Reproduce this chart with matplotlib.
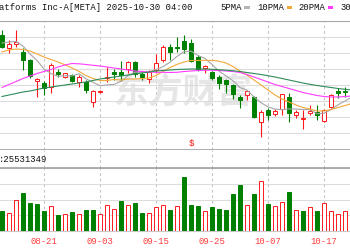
import numpy as np
import matplotlib
matplotlib.use("Agg")
import matplotlib.pyplot as plt
from matplotlib.patches import Rectangle

# trading days shown (last one is cut by the right edge)
dates = ["08-13", "08-14", "08-15", "08-18", "08-19", "08-20", "08-21", "08-22", "08-25", "08-26",
         "08-27", "08-28", "08-29", "09-02", "09-03", "09-04", "09-05", "09-08", "09-09", "09-10",
         "09-11", "09-12", "09-15", "09-16", "09-17", "09-18", "09-19", "09-22", "09-23", "09-24",
         "09-25", "09-26", "09-29", "09-30", "10-01", "10-02", "10-03", "10-06", "10-07", "10-08",
         "10-09", "10-10", "10-13", "10-14", "10-15", "10-16", "10-17", "10-20", "10-21", "10-22",
         "10-23"]
label_dates = ["08-21", "09-03", "09-15", "09-25", "10-07", "10-17"]
dividend_date = "09-22"

opens = [810, 796.7, 801.5, 793.3, 785, 764.3, 762.3, 758, 773.3, 768.3,
         770, 763, 763, 743, 753, 767, 773, 773.5, 776, 782.5,
         771.5, 766.5, 775.5, 785, 798.5, 798.5, 804, 802, 788.3, 776.7,
         773, 768.5, 765.5, 760, 748.3, 750, 748, 723, 735, 731,
         736, 748, 730, 726, 732, 733.3, 724.3, 738.3, 754.3, 754.3,
         752]
highs = [815, 805, 815.5, 797, 786.5, 767.3, 764.5, 782, 776, 772.5,
         771.5, 770, 765, 755.5, 755.5, 778.5, 776, 784.5, 784.5, 784,
         773.5, 775, 791.5, 800, 801.5, 808.5, 810, 806.5, 790, 780,
         774, 770, 766.5, 761, 750, 755.5, 749, 735, 737, 736.5,
         751.5, 751.7, 735, 735, 740, 740, 736.5, 751, 756.7, 758.3,
         760]
lows = [797, 792, 798, 775, 767, 748.5, 750, 752, 768, 767,
        763, 758, 752, 738.5, 752, 763.5, 765, 764, 772, 768.5,
        765, 762, 772, 783.5, 785, 793.5, 792, 783.5, 774, 772,
        765, 756, 752, 746, 737, 745, 727, 708, 725, 729,
        730, 723.3, 726.7, 716.5, 730, 725, 723.3, 736.7, 746.7, 748.3,
        750]
closes = [798.3, 800.7, 803.5, 785, 769, 765.7, 757.5, 780, 771.5, 771.7,
          764.5, 768.3, 755, 754, 754.5, 768.5, 771, 770, 783.5, 771,
          768, 773, 782, 797.5, 793.5, 797, 796.5, 784.5, 776, 779,
          767, 762.5, 761.5, 751, 745, 754.3, 728, 733, 730, 734.3,
          751, 732, 732.7, 727, 734.5, 730, 735, 750, 751.7, 753.3,
          756]
# volume in millions of shares
volumes = [12.0, 10.8, 18.4, 22.8, 16.8, 16.4, 12.0, 14.8, 9.4, 10.2,
           11.4, 10.4, 12.6, 12.6, 10.4, 15.8, 13.0, 18.0, 15.4, 16.8,
           10.8, 10.8, 14.2, 15.6, 12.6, 15.0, 32.6, 15.8, 15.0, 12.0,
           14.2, 13.2, 12.6, 22.4, 27.8, 15.8, 22.4, 29.8, 16.4, 15.0,
           17.4, 23.4, 12.4, 12.0, 14.2, 12.0, 16.8, 12.0, 10.4, 12.0,
           13.8]
shown_volume = 25531349

ma5 = [802, 803, 803.5, 799, 791, 784.6, 776, 771.4, 768.7, 769.3,
       769, 771.2, 766.2, 762.7, 759.3, 760.1, 760.6, 763.6, 769.6, 772.8,
       772.7, 773.1, 775.5, 778.3, 782.8, 788.6, 793.3, 793.8, 789.5, 786.6,
       780.6, 773.8, 769.2, 764.2, 757.4, 754.9, 748, 742.3, 738.1, 735.9,
       735.3, 736.1, 736, 735.4, 735.4, 731.2, 731.8, 735.3, 740.2, 744,
       748]
ma10 = [793, 795, 796, 795.5, 794, 791, 788, 785.5, 783, 780.2,
        777, 773.6, 769.5, 766.5, 764.5, 764.5, 765.5, 765, 766, 766,
        766.4, 767, 769.5, 773.5, 777.5, 780.6, 783, 784.5, 784.5, 784.7,
        784.6, 783.8, 782, 778.5, 774, 770, 765, 760, 755, 750,
        746, 743, 740, 737.5, 736, 734, 734, 735.5, 737.5, 739.5,
        741.5]
ma20 = [757.5, 760.5, 763.5, 766.5, 769, 771.5, 773.5, 775.5, 778, 780,
        781.5, 781.2, 780.5, 779.7, 779, 778, 777, 776, 775, 774,
        773.5, 773, 772.7, 772.7, 772.5, 772.7, 773.5, 774, 774.5, 774.8,
        774.8, 774.5, 774, 773.5, 772.5, 770.5, 768, 765.5, 763, 760.5,
        758.5, 756.5, 754.5, 752.5, 751, 749.5, 748.5, 748, 748, 748.5,
        749]
ma30 = [748.5, 750, 751.5, 753, 754, 755.5, 757, 758, 759, 760,
        761, 762, 763, 764.5, 766, 767, 768, 769, 770, 771,
        772, 773, 774, 774.5, 775, 775.5, 775.8, 776, 776, 776,
        775.7, 775.3, 774.8, 774.2, 773.5, 772.5, 771.5, 770.5, 769.3, 768,
        766.5, 765, 763.5, 762, 760.7, 759.5, 758.5, 757.5, 756.5, 755.7,
        755]

RED = "#ff1a1a"
GREEN = "#008000"
GRID = "#dcdcdc"
MONO = "Liberation Mono"

plt.rcParams["font.family"] = [MONO, "DejaVu Sans"]

W, H = 350, 250


def box(top, bottom):
    # axes rectangle from pixel rows
    return [0, 1 - bottom / H, 1, (bottom - top) / H]


fig = plt.figure(figsize=(W / 100, H / 100), dpi=100)
ax = fig.add_axes(box(20.7, 149.6))
axh = fig.add_axes(box(149.6, 168), sharex=ax)
axv = fig.add_axes(box(168, 231), sharex=ax)

x = np.arange(len(dates))
o = np.array(opens)
c = np.array(closes)
up = c >= o
label_idx = [dates.index(d) for d in label_dates]

# price panel
ax.set_xlim(-2 / 7, 348 / 7)
ax.set_ylim(695.4, 824.3)
ax.set_yticks(np.linspace(695.4, 824.3, 9))
ax.grid(axis="y", color=GRID, lw=0.8)
ax.tick_params(length=0, labelleft=False, labelbottom=False)
for a in (ax, axh, axv):
    for idx in label_idx:
        a.axvline(idx, color="#c4c4c4", lw=0.8, ls=(0, (2.5, 2.5)), zorder=0.5)
    a.spines["left"].set_visible(False)
    a.spines["right"].set_visible(False)
ax.spines["top"].set_color("#a8a8a8")
ax.spines["bottom"].set_color("#a0a0a0")
ax.spines["bottom"].set_linewidth(1.2)

ax.text(0.525, 0.45, "东方财富", transform=ax.transAxes, ha="center", va="center",
        fontsize=25, fontweight="bold", color="#e6e6e6",
        family=["Noto Sans CJK SC"], zorder=0.6)

edge = np.where(up, RED, GREEN)
face = np.where(up, "white", GREEN)
ax.vlines(x, lows, highs, colors=edge, lw=0.8, zorder=2)
body_low = np.minimum(o, c)
body_h = np.maximum(np.abs(c - o), 0.8)
ax.bar(x, body_h, bottom=body_low, width=0.62, color=face, edgecolor=edge,
       linewidth=0.7, zorder=3)

ax.plot(x, ma5, color="#a6a6a6", lw=0.8, zorder=4)
ax.plot(x, ma10, color="#f2a93b", lw=0.8, zorder=4)
ax.plot(x, ma20, color="#ff3cff", lw=0.8, zorder=4)
ax.plot(x, ma30, color="#2e8b57", lw=0.8, zorder=4)

ax.text(dates.index(dividend_date), 0.05, "$", transform=ax.get_xaxis_transform(),
        ha="center", va="center", color=RED, fontsize=6.5)

# header strip between panels
axh.set_yticks([])
axh.tick_params(length=0, labelleft=False, labelbottom=False)
axh.spines["top"].set_visible(False)
axh.spines["bottom"].set_visible(False)
axh.text(-0.003, 0.45, ":" + str(shown_volume), transform=axh.transAxes,
         ha="left", va="center", fontsize=6.4, color="#111111")

# volume panel (colour by close vs previous close)
vol_up = np.concatenate([[c[0] >= o[0]], c[1:] >= c[:-1]])
vedge = np.where(vol_up, RED, GREEN)
vface = np.where(vol_up, "white", GREEN)
axv.bar(x, volumes, width=0.62, color=vface, edgecolor=vedge, linewidth=0.7, zorder=3)
axv.set_ylim(0, 37.8)
axv.set_yticks(np.linspace(0, 37.8, 5))
axv.grid(axis="y", color=GRID, lw=0.8)
axv.spines["top"].set_color("#a0a0a0")
axv.spines["top"].set_linewidth(1.2)
axv.spines["bottom"].set_color("#c8c8c8")
axv.set_xticks(label_idx)
axv.set_xticklabels(label_dates)
axv.tick_params(axis="x", length=0, pad=4, labelsize=6.4, labelcolor="#ff3b3b")
axv.tick_params(axis="y", length=0, labelleft=False)

# title and MA legend
ty = 1 - 7.5 / H
fig.text(-0.002, ty, "atforms Inc-A[META] 2025-10-30 04:00", ha="left", va="center",
         fontsize=6.4, color="#111111")
legend = [("5PMA", 220, "#b4b4b4"), ("10PMA", 257, "#f2a93b"),
          ("20PMA", 298, "#ff3cff"), ("30PMA", 340, "#2e8b57")]
for name, px, col in legend:
    fig.text(px / W, ty, name, ha="left", va="center", fontsize=6.4, color="#111111")
    mx = px + len(name) * 5.5 + 2
    fig.add_artist(Rectangle((mx / W, 1 - 9 / H), 5.5 / W, 2.8 / H,
                             transform=fig.transFigure, color=col, lw=0))

fig.savefig("out.png", dpi=100)
